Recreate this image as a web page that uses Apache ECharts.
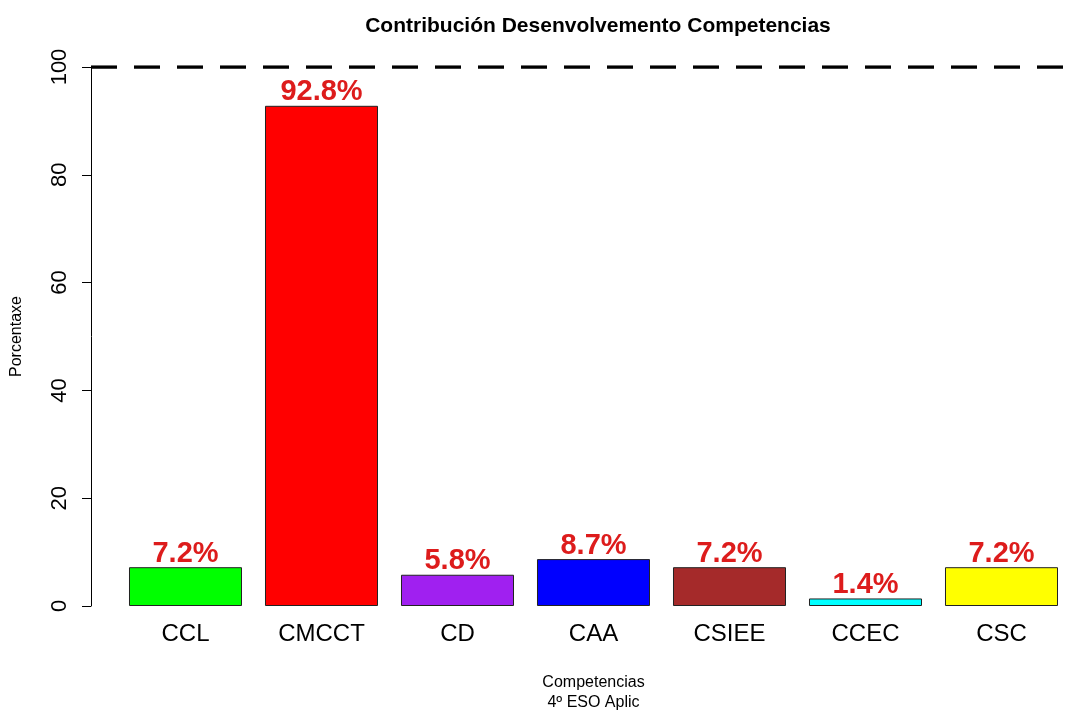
<!DOCTYPE html>
<html><head><meta charset="utf-8">
<script src="https://cdn.jsdelivr.net/npm/echarts@6/dist/echarts.min.js"></script>
<style>html,body{margin:0;padding:0;background:#fff}#c{width:1080px;height:711px}</style>
</head><body><div id="c"></div>
<script>
const categories = ['CCL','CMCCT','CD','CAA','CSIEE','CCEC','CSC'];
const values = [7.2, 92.8, 5.8, 8.7, 7.2, 1.4, 7.2];
const barColors = ['#00ff00','#ff0000','#a020f0','#0000ff','#a52a2a','#00ffff','#ffff00'];
const yTicks = [0, 20, 40, 60, 80, 100];
const refLine = 100;

const FONT = '"Liberation Sans", Arial, sans-serif';
const chart = echarts.init(document.getElementById('c'), null, {renderer:'canvas'});
chart.setOption({
  backgroundColor:'#ffffff',
  animation:false,
  title:[{
    text:'Contribución Desenvolvemento Competencias',
    left:593, top:11, textAlign:'center',
    textStyle:{fontFamily:FONT, fontWeight:'bold', fontSize:21, color:'#000'}
  }],
  grid:[
    {left:117.5, right:10.5, top:67, bottom:105, containLabel:false, outerBoundsMode:'none'},
    {left:91, right:-15, top:67, bottom:105, containLabel:false, outerBoundsMode:'none'}
  ],
  xAxis:[
    {type:'category', gridIndex:0, data:categories,
     axisLine:{show:false}, axisTick:{show:false},
     axisLabel:{fontFamily:FONT, fontSize:24, color:'#000', margin:16},
     name:'Competencias\n4º ESO Aplic', nameLocation:'middle', nameGap:67,
     nameTextStyle:{fontFamily:FONT, fontSize:16, color:'#000', lineHeight:20}},
    {type:'value', gridIndex:1, min:0, max:1, show:false}
  ],
  yAxis:[
    {type:'value', gridIndex:0, min:yTicks[0], max:yTicks[yTicks.length-1], interval:20, offset:26.5,
     axisLine:{show:true, lineStyle:{color:'#000', width:1}},
     axisTick:{show:true, inside:false, length:9, lineStyle:{color:'#000'}},
     axisLabel:{fontFamily:FONT, fontSize:22, color:'#000', rotate:90, margin:20},
     splitLine:{show:false},
     name:'Porcentaxe', nameLocation:'middle', nameGap:66, nameRotate:90,
     nameTextStyle:{fontFamily:FONT, fontSize:16, color:'#000'}},
    {type:'value', gridIndex:1, min:yTicks[0], max:yTicks[yTicks.length-1], show:false}
  ],
  series:[
    {type:'bar', xAxisIndex:0, yAxisIndex:0, barCategoryGap:'16.9%',
     data: values.map((v,i)=>({value:v, itemStyle:{color:barColors[i]}})),
     itemStyle:{borderColor:'#222', borderWidth:1},
     label:{show:true, position:'top', distance:-1, formatter:p=>p.value.toFixed(1)+'%',
       fontFamily:FONT, fontWeight:'bold', fontSize:29, color:'#dd1c1c'}},
    {type:'line', xAxisIndex:1, yAxisIndex:1, symbol:'none', silent:true,
     data:[[0,refLine],[1,refLine]],
     lineStyle:{color:'#000', width:3.5, type:[26,17], cap:'butt'}}
  ]
});
</script></body></html>
